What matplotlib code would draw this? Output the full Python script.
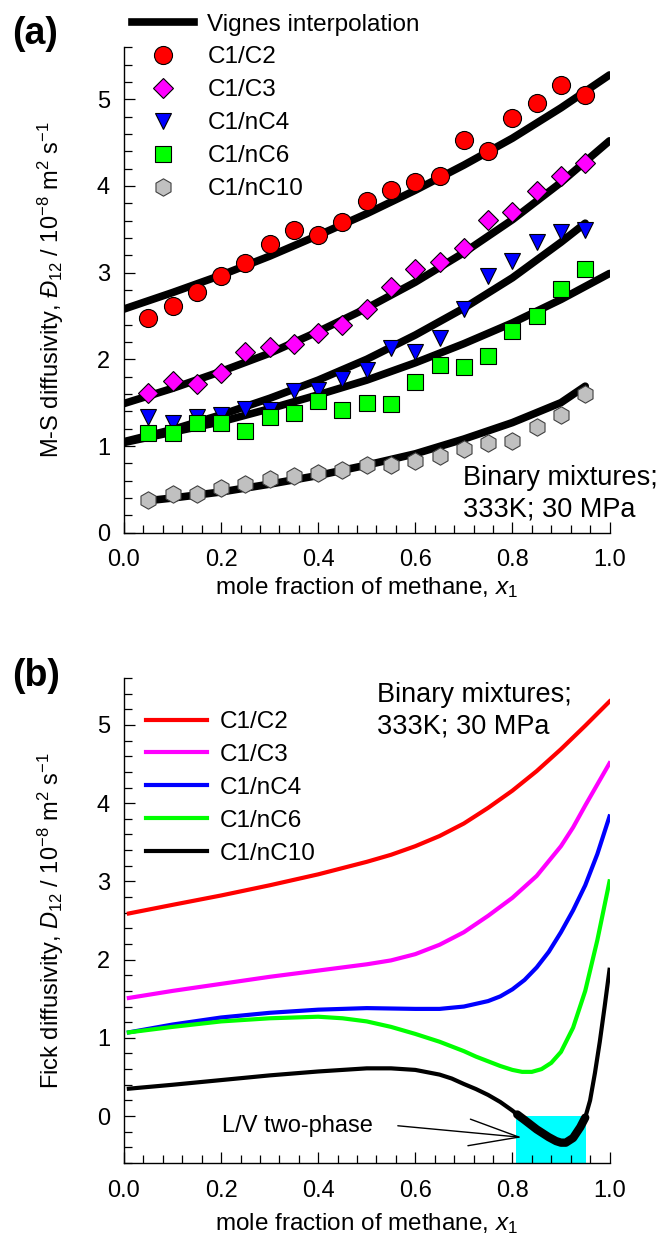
import numpy as np
import matplotlib
matplotlib.use("Agg")
import matplotlib.pyplot as plt
from matplotlib.lines import Line2D
from matplotlib.ticker import MultipleLocator

plt.rcParams['font.family'] = ['Liberation Sans', 'DejaVu Sans']
plt.rcParams['mathtext.fontset'] = 'custom'
plt.rcParams['mathtext.rm'] = 'Liberation Sans'
plt.rcParams['mathtext.it'] = 'Liberation Sans:italic'
plt.rcParams['mathtext.bf'] = 'Liberation Sans:bold'

# ---------------- data: panel (a) ----------------
series = ['C1/C2', 'C1/C3', 'C1/nC4', 'C1/nC6', 'C1/nC10']

x_exp = [0.05, 0.10, 0.15, 0.20, 0.25, 0.30, 0.35, 0.40, 0.45, 0.50,
         0.55, 0.60, 0.65, 0.70, 0.75, 0.80, 0.85, 0.90, 0.95]
ms_c2 = [2.48, 2.61, 2.78, 2.96, 3.11, 3.33, 3.49, 3.43, 3.58, 3.83,
         3.95, 4.04, 4.12, 4.53, 4.40, 4.78, 4.96, 5.16, 5.05]
ms_c3 = [1.61, 1.75, 1.71, 1.84, 2.09, 2.14, 2.18, 2.30, 2.40, 2.58,
         2.83, 3.04, 3.12, 3.28, 3.61, 3.70, 3.94, 4.11, 4.26]
ms_nc4 = [1.34, 1.27, 1.34, 1.36, 1.43, 1.41, 1.63, 1.65, 1.77, 1.88,
          2.13, 2.08, 2.24, 2.58, 2.96, 3.13, 3.35, 3.47, 3.49]
ms_nc6 = [1.15, 1.15, 1.26, 1.27, 1.17, 1.34, 1.38, 1.52, 1.41, 1.50,
          1.48, 1.74, 1.93, 1.91, 2.04, 2.33, 2.50, 2.81, 3.04]
ms_nc10 = [0.38, 0.45, 0.45, 0.51, 0.56, 0.62, 0.65, 0.69, 0.72, 0.78,
           0.78, 0.83, 0.88, 0.96, 1.04, 1.06, 1.22, 1.36, 1.60]

x_vig = [0.0, 0.1, 0.2, 0.3, 0.4, 0.5, 0.6, 0.7, 0.8, 0.9, 1.0]
vig_c2 = [2.58, 2.77, 2.97, 3.19, 3.43, 3.68, 3.95, 4.24, 4.55, 4.90, 5.28]
vig_c3 = [1.49, 1.665, 1.86, 2.07, 2.32, 2.59, 2.89, 3.23, 3.61, 4.04, 4.52]
vig_nc6 = [1.04, 1.16, 1.28, 1.43, 1.59, 1.76, 1.96, 2.18, 2.42, 2.69, 2.99]
x_vig_nc4 = [0.0, 0.1, 0.2, 0.3, 0.4, 0.5, 0.6, 0.7, 0.8, 0.9, 0.95]
vig_nc4 = [1.05, 1.19, 1.36, 1.55, 1.76, 2.00, 2.28, 2.59, 2.94, 3.35, 3.57]
x_vig_nc10 = [0.05, 0.1, 0.2, 0.3, 0.4, 0.5, 0.6, 0.7, 0.8, 0.9, 0.95]
vig_nc10 = [0.37, 0.40, 0.47, 0.56, 0.66, 0.78, 0.91, 1.08, 1.27, 1.50, 1.69]

# ---------------- data: panel (b) ----------------
x_f_c2 = [0.01, 0.1, 0.2, 0.3, 0.4, 0.5, 0.55, 0.6, 0.65, 0.7, 0.75, 0.8, 0.85, 0.9, 0.95, 1.0]
f_c2 = [2.59, 2.70, 2.82, 2.95, 3.09, 3.25, 3.34, 3.45, 3.58, 3.74, 3.94, 4.16, 4.41, 4.69, 4.99, 5.30]
x_f_c3 = [0.01, 0.1, 0.2, 0.3, 0.4, 0.5, 0.55, 0.6, 0.65, 0.7, 0.75, 0.8, 0.85, 0.9,
          0.925, 0.95, 0.975, 1.0]
f_c3 = [1.51, 1.60, 1.69, 1.78, 1.86, 1.94, 1.99, 2.07, 2.19, 2.35, 2.56, 2.79, 3.07, 3.45,
        3.69, 3.97, 4.24, 4.51]
x_f_nc4 = [0.01, 0.1, 0.2, 0.3, 0.4, 0.5, 0.6, 0.65, 0.7, 0.75, 0.775, 0.8, 0.825, 0.85,
           0.875, 0.9, 0.925, 0.95, 0.975, 1.0]
f_nc4 = [1.07, 1.17, 1.26, 1.32, 1.36, 1.38, 1.37, 1.37, 1.40, 1.47, 1.53, 1.62, 1.74, 1.90,
         2.10, 2.35, 2.63, 2.95, 3.35, 3.83]
x_f_nc6 = [0.01, 0.1, 0.2, 0.3, 0.4, 0.45, 0.5, 0.55, 0.6, 0.65, 0.7, 0.725, 0.75, 0.775,
           0.8, 0.82, 0.84, 0.86, 0.88, 0.9, 0.925, 0.95, 0.975, 1.0]
f_nc6 = [1.07, 1.14, 1.21, 1.25, 1.27, 1.25, 1.21, 1.14, 1.05, 0.95, 0.83, 0.76, 0.70, 0.64,
         0.59, 0.565, 0.565, 0.60, 0.68, 0.82, 1.13, 1.60, 2.25, 3.00]
x_f_nc10 = [0.01, 0.1, 0.2, 0.3, 0.4, 0.45, 0.5, 0.55, 0.6, 0.65, 0.675, 0.7, 0.725, 0.75,
            0.775, 0.8, 0.81, 0.825, 0.85, 0.875, 0.89, 0.9, 0.91, 0.925, 0.94, 0.95,
            0.96, 0.97, 0.98, 0.99, 1.0]
f_nc10 = [0.35, 0.40, 0.46, 0.52, 0.57, 0.59, 0.61, 0.61, 0.59, 0.53, 0.48, 0.41, 0.345, 0.27,
          0.18, 0.07, 0.02, -0.05, -0.17, -0.27, -0.32, -0.34, -0.34, -0.28, -0.14, -0.02,
          0.20, 0.55, 0.95, 1.40, 1.87]

lv_x = [0.807, 0.951]      # L/V two-phase region
lv_y = [-0.6, 0.0]

# ---------------- styles ----------------
colors = ['#ff0000', '#ff00ff', '#0000ff', '#00ff00', '#c0c0c0']
fick_colors = ['#ff0000', '#ff00ff', '#0000ff', '#00ff00', '#000000']
markers = ['o', 'D', 'v', 's', 'h']
msizes = [13, 10, 12, 11, 12.5]
medges = ['black', 'black', 'black', 'black', '#404040']

W, H = 670, 1241
fig = plt.figure(figsize=(W / 100, H / 100), dpi=100)

def px_axes(left, top, right, bottom):
    return [left / W, 1 - bottom / H, (right - left) / W, (bottom - top) / H]

ax1 = fig.add_axes(px_axes(124, 47.2, 609.5, 532.7))
ax2 = fig.add_axes(px_axes(124, 678, 609.5, 1163))

TICK_FS = 17
for ax in (ax1, ax2):
    ax.spines['top'].set_visible(False)
    ax.spines['right'].set_visible(False)
    for s in ('left', 'bottom'):
        ax.spines[s].set_linewidth(1.0)
    ax.set_xlim(0, 1.0)
    ax.xaxis.set_major_locator(MultipleLocator(0.2))
    ax.xaxis.set_minor_locator(MultipleLocator(0.04))
    ax.yaxis.set_major_locator(MultipleLocator(1))
    ax.yaxis.set_minor_locator(MultipleLocator(0.2))
    ax.tick_params(which='both', direction='in', width=0.9, labelsize=TICK_FS)
    ax.tick_params(which='major', length=8)
    ax.tick_params(which='minor', length=5.8)
    ax.tick_params(axis='x', which='both', pad=12)
    ax.tick_params(axis='y', which='both', pad=10)
    ax.set_xlabel('mole fraction of methane, $x_1$', fontsize=17.5)

ax1.xaxis.set_label_coords(0.5, -0.088)
ax2.xaxis.set_label_coords(0.5, -0.1)

# ---------------- panel (a) ----------------
ax1.set_ylim(0, 5.6)
vig_x = [x_vig, x_vig, x_vig_nc4, x_vig, x_vig_nc10]
vig_y = [vig_c2, vig_c3, vig_nc4, vig_nc6, vig_nc10]
for xs, ys in zip(vig_x, vig_y):
    ax1.plot(xs, ys, color='black', lw=5.5, solid_capstyle='round', zorder=2)
exp_y = [ms_c2, ms_c3, ms_nc4, ms_nc6, ms_nc10]
for ys, c, m, s, e in zip(exp_y, colors, markers, msizes, medges):
    ax1.plot(x_exp, ys, ls='none', marker=m, ms=s, mfc=c, mec=e, mew=0.8, zorder=3)

ax1.set_ylabel('M-S diffusivity, $\\mathit{Ɖ}_{12}$ / 10$^{-8}$ m$^{2}$ s$^{-1}$', fontsize=17)
ax1.yaxis.set_label_coords(-0.12, 0.5)

ax1.text(0.698, 0.55, 'Binary mixtures;', fontsize=19.5, ha='left', va='baseline')
ax1.text(0.698, 0.185, '333K; 30 MPa', fontsize=19.5, ha='left', va='baseline')

h1 = [Line2D([], [], color='black', lw=5.5)]
for c, m, s, e in zip(colors, markers, msizes, medges):
    h1.append(Line2D([], [], ls='none', marker=m, ms=s, mfc=c, mec=e, mew=0.8))
fig.legend(h1, ['Vignes interpolation'] + series, loc='upper left',
           bbox_to_anchor=(132 / W, 1 - 13.5 / H), frameon=False, fontsize=17.5,
           borderpad=0, borderaxespad=0, handlelength=2.55, handletextpad=0.55,
           labelspacing=0.45, numpoints=1)

fig.text(12 / W, 1 - 33.5 / H, '(a)', fontsize=27, fontweight='bold', ha='left', va='center')

# ---------------- panel (b) ----------------
ax2.set_ylim(-0.6, 5.6)
ax2.fill_between(lv_x, lv_y[0], lv_y[1], color='#00ffff', lw=0, zorder=1)
fx = [x_f_c2, x_f_c3, x_f_nc4, x_f_nc6, x_f_nc10]
fy = [f_c2, f_c3, f_nc4, f_nc6, f_nc10]
for xs, ys, c, lab in zip(fx, fy, fick_colors, series):
    ax2.plot(xs, ys, color=c, lw=3, label=lab, zorder=3, solid_joinstyle='round')
xb = np.array(x_f_nc10)
yb = np.array(f_nc10)
mask = (xb >= lv_x[0]) & (xb <= lv_x[1])
ax2.plot(xb[mask], yb[mask], color='black', lw=6, solid_capstyle='round',
         solid_joinstyle='round', zorder=4)

ax2.set_ylabel('Fick diffusivity, $\\mathit{D}_{12}$ / 10$^{-8}$ m$^{2}$ s$^{-1}$', fontsize=17)
ax2.yaxis.set_label_coords(-0.12, 0.5)

ax2.text(0.522, 5.29, 'Binary mixtures;', fontsize=19.5, ha='left', va='baseline')
ax2.text(0.522, 4.89, '333K; 30 MPa', fontsize=19.5, ha='left', va='baseline')

ax2.text(0.202, -0.204, 'L/V two-phase', fontsize=17, ha='left', va='baseline')
ax2.annotate('', xy=(0.819, -0.272), xytext=(0.564, -0.124),
             arrowprops=dict(arrowstyle='->,head_length=3.6,head_width=0.96',
                             lw=1.0, color='black', shrinkA=0, shrinkB=0,
                             mutation_scale=10))

ax2.legend(loc='upper left', bbox_to_anchor=(146 / W, 1 - 711 / H),
           bbox_transform=fig.transFigure, frameon=False, fontsize=17.5,
           borderpad=0, borderaxespad=0, handlelength=2.5, handletextpad=0.55,
           labelspacing=0.45)

fig.text(12 / W, 1 - 675.5 / H, '(b)', fontsize=27, fontweight='bold', ha='left', va='center')

fig.savefig('out.png', dpi=100)
